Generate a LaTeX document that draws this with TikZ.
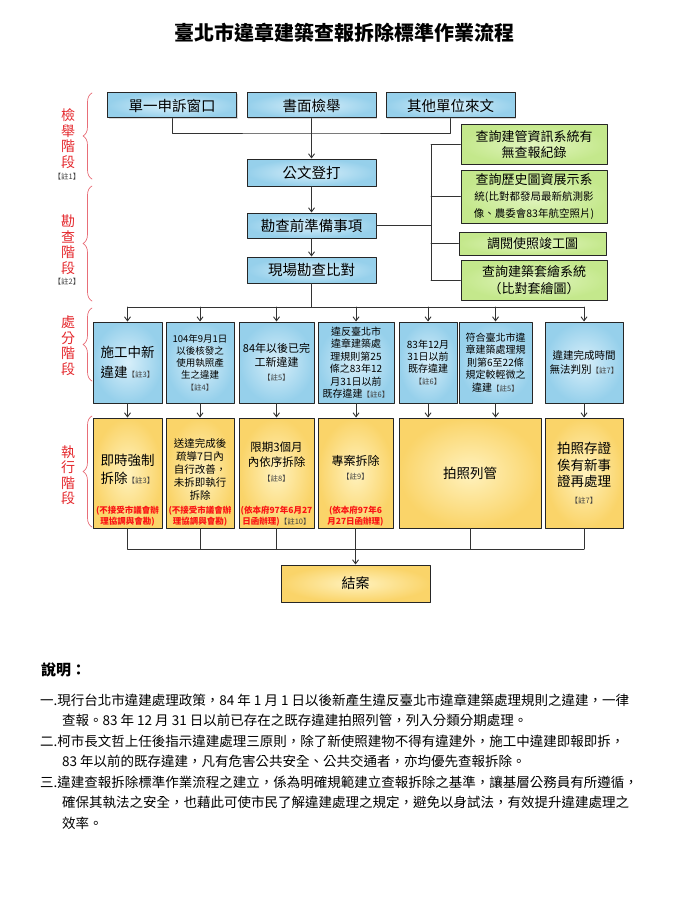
\documentclass[tikz,border=0pt]{standalone}
\usepackage{fontspec}
\setmainfont{Noto Sans CJK TC}
\usepackage{xcolor}
\usetikzlibrary{arrows.meta}
\usetikzlibrary{positioning}
\usetikzlibrary{shadows}
\usetikzlibrary{decorations.pathreplacing}
\definecolor{blueIn}{RGB}{216,239,250}
\definecolor{blueOut}{RGB}{150,208,235}
\definecolor{greenIn}{RGB}{226,245,192}
\definecolor{greenOut}{RGB}{196,232,140}
\definecolor{yellowIn}{RGB}{255,242,190}
\definecolor{yellowOut}{RGB}{250,212,105}
\definecolor{labRed}{RGB}{228,40,45}
\definecolor{braceRed}{RGB}{232,110,120}
\definecolor{noteRed}{RGB}{250,20,20}
\newcommand{\fsz}[2]{\fontsize{#1}{#2}\selectfont}
\newcommand{\zhu}[1]{{\fontsize{7.5}{9}\selectfont\mdseries\color{black!75}【註#1】}}

\begin{document}
\begin{tikzpicture}[line cap=round,line join=round,>={Straight Barb[length=4pt,width=6pt]},x=1pt,y=-1pt,
	flowbox/.style={draw=black!85,line width=1pt,align=center,inner sep=1pt,drop shadow={shadow xshift=1.2pt,shadow yshift=-1.2pt,opacity=0.3}},
	bluebox/.style={flowbox,inner color=blueIn,outer color=blueOut},
	greenbox/.style={flowbox,inner color=greenIn,outer color=greenOut,minimum width=146pt,font=\fsz{13}{16.5}},
	yellowbox/.style={flowbox,inner color=yellowIn,outer color=yellowOut,minimum height=110pt},
	topbox/.style={bluebox,minimum width=129pt,minimum height=25pt,font=\fsz{14.5}{16}},
	midbox/.style={bluebox,minimum height=81pt},
	link/.style={line width=0.9pt,black!80},
	stage/.style={labRed,align=center,font=\fsz{14}{15.5}},
	stagebrace/.style={braceRed,line width=0.7pt,decorate,decoration={brace,amplitude=9pt}},
	rednote/.style={noteRed,align=center,font=\fsz{8.5}{11}\bfseries,inner sep=0pt},
	expl/.style={anchor=west,inner sep=0pt,font=\fsz{13.5}{16}}]
		\useasboundingbox (0,0) rectangle (673,923);
		\node[font=\fsz{20}{24}\bfseries] (title) at (344,33) {臺北市違章建築查報拆除標準作業流程};
		\node[topbox] (s1) at (172,105.5) {單一申訴窗口};
		\node[topbox] (s2) at (311.5,105.5) {書面檢舉};
		\node[topbox] (s3) at (450.5,105.5) {其他單位來文};
		\node[topbox,minimum height=27pt] (p1) at (311.5,172.5) {公文登打};
		\node[topbox] (p2) at (311.5,225.5) {勘查前準備事項};
		\node[topbox,minimum height=26pt] (p3) at (311.5,270) {現場勘查比對};
		\node[greenbox,minimum height=39pt] (g1) at (534,144.5) {查詢建管資訊系統有\\無查報紀錄};
		\node[greenbox,minimum height=53pt] (g2) at (534,196.5) {查詢歷史圖資展示系\\{\fsz{10.5}{15}統(比對都發局最新航測影}\\{\fsz{10.5}{15}像、農委會83年航空照片)}};
		\node[greenbox,minimum width=147pt,minimum height=23pt] (g3) at (532.5,243.5) {調閱使照竣工圖};
		\node[greenbox,minimum height=40pt] (g4) at (534,280) {查詢建築套繪系統\\（比對套繪圖）};
		\node[midbox,minimum width=69pt,font=\fsz{13.5}{20}] (c1) at (127.5,362.5) {施工中新\\違建\zhu{3}};
		\node[midbox,minimum width=68pt,font=\fsz{9.5}{12}] (c2) at (200,362.5) {104年9月1日\\以後核發之\\使用執照產\\生之違建\\\zhu{4}};
		\node[midbox,minimum width=75pt,font=\fsz{11}{14}] (c3) at (276.5,362.5) {84年以後已完\\工新違建\\\zhu{5}};
		\node[midbox,minimum width=76pt,font=\fsz{10}{12.5}] (c4) at (356,362.5) {違反臺北市\\違章建築處\\理規則第25\\條之83年12\\月31日以前\\既存違建\zhu{6}};
		\node[midbox,minimum width=58pt,font=\fsz{10}{12}] (c5) at (428,362.5) {83年12月\\31日以前\\既存違建\\\zhu{6}};
		\node[midbox,minimum width=73pt,font=\fsz{10}{12.5}] (c6) at (495.5,362.5) {符合臺北市違\\章建築處理規\\則第6至22條\\規定較輕微之\\違建\zhu{5}};
		\node[midbox,minimum width=78pt,font=\fsz{10.5}{14}] (c7) at (584,362.5) {違建完成時間\\無法判別\zhu{7}};
		\node[yellowbox,minimum width=69pt,font=\fsz{13.5}{18},text depth=8pt] (d1) at (127.5,473) {即時強制\\拆除\zhu{3}};
		\node[yellowbox,minimum width=68pt,font=\fsz{10.5}{13},text depth=8pt] (d2) at (200,473) {送達完成後\\疏導7日內\\自行改善，\\未拆即執行\\拆除};
		\node[yellowbox,minimum width=75pt,font=\fsz{11.5}{15},text depth=22pt] (d3) at (276.5,473) {限期3個月\\內依序拆除\\\zhu{8}};
		\node[yellowbox,minimum width=75pt,font=\fsz{12}{14},text depth=12pt] (d4) at (355.5,473) {專案拆除\\\zhu{9}};
		\node[yellowbox,minimum width=142pt,font=\fsz{13.5}{16}] (d5) at (470,473) {拍照列管};
		\node[yellowbox,minimum width=78pt,font=\fsz{13.5}{16.5}] (d6) at (584,473) {拍照存證\\俟有新事\\證再處理\\\zhu{7}};
		\node[rednote,above=2pt of d1.south] (r1) {(不接受市議會辦\\理協調與會勘)};
		\node[rednote,above=2pt of d2.south] (r2) {(不接受市議會辦\\理協調與會勘)};
		\node[rednote,above=2pt of d3.south] (r3) {(依本府97年6月27\\日函辦理)\zhu{10}};
		\node[rednote,above=2pt of d4.south] (r4) {(依本府97年6\\月27日函辦理)};
		\node[yellowbox,minimum width=149pt,minimum height=37pt,font=\fsz{14}{16}] (done) at (355.5,583.5) {結案};
		\coordinate (top) at (311.5,133);
		\coordinate (gbus) at (431,225.5);
		\coordinate (cbus) at (311.5,307);
		\coordinate (dbus) at (355.5,549);
		\draw[link] (s1.south) |- (top) -| (s3.south);
		\draw[link,->] (s2) -- (p1);
		\draw[link,->] (p1) -- (p2);
		\draw[link,->] (p2) -- (p3);
		\draw[link] (p2.east) -- (gbus);
		\draw[link] (g1.west -| gbus) -- (g4.west -| gbus);
		\foreach \g in {g1,g2,g3,g4}
			\draw[link] (\g.west -| gbus) -- (\g.west);
		\draw[link] (p3.south) -- (cbus);
		\draw[link] (c1.north |- cbus) -- (c7.north |- cbus);
		\foreach \i in {1,...,7}
			\draw[link,->] (c\i.north |- cbus) -- (c\i.north);
		\foreach \i/\j in {1/1,2/2,3/3,4/4,5/5,6/5,7/6}
			\draw[link,->] (c\i.south) -- (c\i.south |- d\j.north);
		\foreach \i in {1,...,6}
			\draw[link] (d\i.south) -- (d\i.south |- dbus);
		\draw[link] (d1.south |- dbus) -- (d6.south |- dbus);
		\draw[link,->] (dbus) -- (done);
		\node[stage] (l1) at (68,138.5) {檢\\舉\\階\\段};
		\node[inner sep=0pt] (n1) at (67,177) {\zhu{1}};
		\node[stage] (l2) at (68,244.5) {勘\\查\\階\\段};
		\node[inner sep=0pt] (n2) at (67,282) {\zhu{2}};
		\node[stage] (l3) at (68,345.5) {處\\分\\階\\段};
		\node[stage] (l4) at (68,475) {執\\行\\階\\段};
		\draw[stagebrace] (92,179) -- (92,93);
		\draw[stagebrace] (92,301) -- (92,186);
		\draw[stagebrace] (92,381) -- (92,308);
		\draw[stagebrace] (92,527) -- (92,416);
		\node[anchor=west,inner sep=0pt,font=\fsz{15}{18}\bfseries] (sm) at (41,670) {說明：};
		\node[expl] (e1) at (40,700) {一.現行台北市違建處理政策，84 年 1 月 1 日以後新產生違反臺北市違章建築處理規則之違建，一律};
		\node[expl] (e2) at (62,720) {查報。83 年 12 月 31 日以前已存在之既存違建拍照列管，列入分類分期處理。};
		\node[expl] (e3) at (40,741) {二.柯市長文哲上任後指示違建處理三原則，除了新使照建物不得有違建外，施工中違建即報即拆，};
		\node[expl] (e4) at (62,761) {83 年以前的既存違建，凡有危害公共安全、公共交通者，亦均優先查報拆除。};
		\node[expl] (e5) at (40,782) {三.違建查報拆除標準作業流程之建立，係為明確規範建立查報拆除之基準，讓基層公務員有所遵循，};
		\node[expl] (e6) at (62,802) {確保其執法之安全，也藉此可使市民了解違建處理之規定，避免以身試法，有效提升違建處理之};
		\node[expl] (e7) at (62,823) {效率。};
\end{tikzpicture}
\end{document}
